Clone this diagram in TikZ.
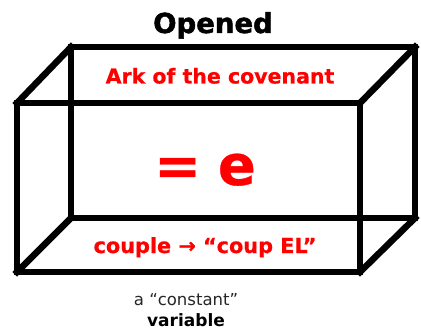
\documentclass[tikz,border=0pt]{standalone}
\usepackage{fontspec}
\setmainfont{DejaVu Sans}
\newfontfamily\heavyfont{DejaVu Sans Bold}[FakeBold=1.6]
\newfontfamily\semiheavyfont{DejaVu Sans Bold}[FakeBold=0.6]
\begin{document}
\begin{tikzpicture}[x=1pt,y=-1pt,
  edge/.style={line width=6.5pt,line join=miter,line cap=rect,black},
  redtxt/.style={text=red,inner sep=0pt,anchor=base}]
\useasboundingbox (0,0) rectangle (421,329);
% front face
\coordinate (ftl) at (17,103);
\coordinate (ftr) at (360,103);
\coordinate (fbl) at (17,272);
\coordinate (fbr) at (360,272);
% back face
\coordinate (btl) at (71,47);
\coordinate (btr) at (415,47);
\coordinate (bbl) at (71,218);
\coordinate (bbr) at (415,218);
\draw[edge] (btl) -- (btr) -- (bbr) -- (bbl) -- cycle;
\draw[edge] (ftl) -- (ftr) -- (fbr) -- (fbl) -- cycle;
\draw[edge] (ftl) -- (btl);
\draw[edge] (ftr) -- (btr);
\draw[edge] (fbl) -- (bbl);
\draw[edge] (fbr) -- (bbr);
\node[inner sep=0pt,anchor=base,font=\heavyfont\fontsize{27.5}{30}\selectfont] (title) at (213,33) {Opened};
\node[redtxt,font=\semiheavyfont\fontsize{20.5}{24}\selectfont] (ark) at (220,83.5) {Ark of the covenant};
\node[redtxt,font=\semiheavyfont\fontsize{56}{60}\selectfont] (eq) at (205,185) {=\hspace{0.3em}e};
\node[redtxt,font=\semiheavyfont\fontsize{20.8}{24}\selectfont] (coup) at (205,253) {couple → “coup EL”};
\node[inner sep=0pt,anchor=base,text=black!85,font=\fontsize{16.5}{20}\selectfont] (const) at (186,305) {a “constant”};
\node[inner sep=0pt,anchor=base,font=\bfseries\fontsize{17}{20}\selectfont] (var) at (186,326) {variable};
\end{tikzpicture}
\end{document}
